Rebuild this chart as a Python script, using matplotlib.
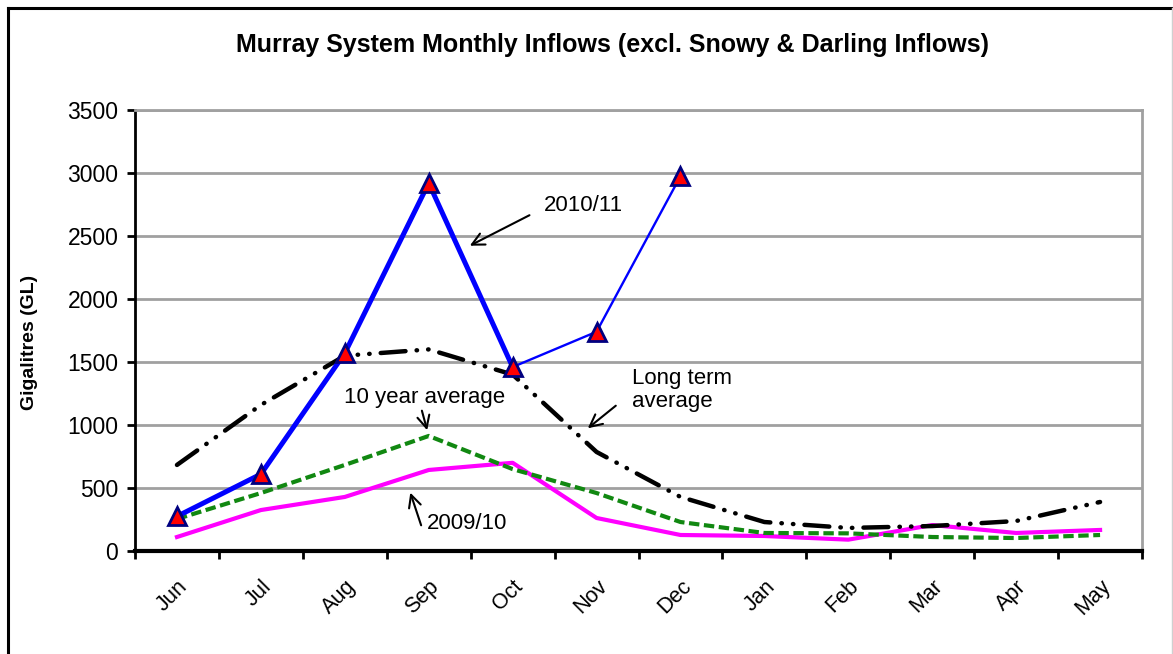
import matplotlib
matplotlib.use("Agg")
import matplotlib.pyplot as plt
from matplotlib.lines import Line2D

months = ["Jun", "Jul", "Aug", "Sep", "Oct", "Nov", "Dec", "Jan", "Feb", "Mar", "Apr", "May"]
inflow_2010_11 = [275, 610, 1570, 2920, 1460, 1740, 2975]
inflow_2009_10 = [111, 325, 429, 643, 700, 262, 127, 119, 90, 206, 143, 167]
avg_10yr = [254, 460, 683, 913, 650, 460, 230, 143, 140, 111, 103, 127]
avg_long = [683, 1159, 1550, 1600, 1400, 786, 429, 230, 183, 198, 238, 389]

plt.rcParams['font.family'] = ['Liberation Sans', 'DejaVu Sans']

fig = plt.figure(figsize=(11.73, 6.54), dpi=100)
ax = fig.add_axes([0.1151, 0.1575, 0.8585, 0.6743])

xs = [i + 0.5 for i in range(len(months))]

ax.plot(xs, inflow_2009_10, color='#FF00FF', lw=3.0, zorder=3)
ax.plot(xs, avg_10yr, color='#118811', lw=3.0, dashes=(2.5, 1.1), zorder=4)
ax.plot(xs, avg_long, color='black', lw=3.2, dashes=(5.6, 2.5, 0.1, 2.5, 0.1, 2.5),
        dash_capstyle='round', zorder=4)
ax.plot(xs[:5], inflow_2010_11[:5], color='#0000FF', lw=3.6, zorder=5)
ax.plot(xs[4:7], inflow_2010_11[4:7], color='#0000FF', lw=1.7, zorder=5)
ax.plot(xs[:7], inflow_2010_11, ls='none', marker='^', ms=13, mfc='#FF0000',
        mec='#000080', mew=2.0, zorder=6)

ax.set_xlim(0, 12)
ax.set_ylim(0, 3500)
ax.set_yticks(range(0, 3501, 500))
ax.set_xticks(range(0, 13))
ax.set_xticklabels([])
ax.set_xticks(xs, minor=True)
ax.set_xticklabels(months, minor=True, rotation=45, ha='right', va='top',
                   rotation_mode='anchor', fontsize=15.5)
ax.tick_params(axis='x', which='minor', length=0, pad=18)
ax.tick_params(axis='x', which='major', length=6, width=2, direction='out', color='black')
ax.tick_params(axis='y', length=6, width=2, direction='out', labelsize=16.5, pad=6)

ax.grid(axis='y', color='#a0a0a0', lw=2)
ax.set_axisbelow(True)
for s in ['top', 'right']:
    ax.spines[s].set_color('#a0a0a0')
    ax.spines[s].set_linewidth(2)
ax.spines['left'].set_linewidth(2)
ax.spines['bottom'].set_linewidth(3)

ax.set_ylabel('Gigalitres (GL)', fontsize=14, fontweight='bold')
ax.yaxis.set_label_coords(-0.0963, 0.472)
fig.text(0.522, 0.931, 'Murray System Monthly Inflows (excl. Snowy & Darling Inflows)',
         ha='center', va='center', fontsize=18, fontweight='bold')

arrow = dict(arrowstyle='->', color='black', lw=1.5, mutation_scale=22)
ax.text(4.87, 2746, '2010/11', fontsize=16, ha='left', va='center')
ax.annotate('', xy=(3.96, 2413), xytext=(4.73, 2675), arrowprops=arrow)
ax.text(3.445, 1222, '10 year average', fontsize=16, ha='center', va='center')
ax.annotate('', xy=(3.49, 937), xytext=(3.41, 1135), arrowprops=arrow)
ax.text(5.92, 1278, 'Long term\naverage', fontsize=16, ha='left', va='center', linespacing=1.1)
ax.annotate('', xy=(5.37, 960), xytext=(5.755, 1167), arrowprops=arrow)
ax.text(3.48, 222, '2009/10', fontsize=16, ha='left', va='center')
ax.annotate('', xy=(3.27, 484), xytext=(3.42, 183), arrowprops=arrow)

# outer chart border
fig.add_artist(Line2D([8/1173, 8/1173], [0, 1 - 8/654], transform=fig.transFigure, color='black', lw=2.2))
fig.add_artist(Line2D([8/1173, 1], [1 - 8/654, 1 - 8/654], transform=fig.transFigure, color='black', lw=2.2))
fig.add_artist(Line2D([1171.5/1173, 1171.5/1173], [0, 1 - 8/654], transform=fig.transFigure, color='#d0d0d0', lw=1))

fig.savefig('out.png', dpi=100)
